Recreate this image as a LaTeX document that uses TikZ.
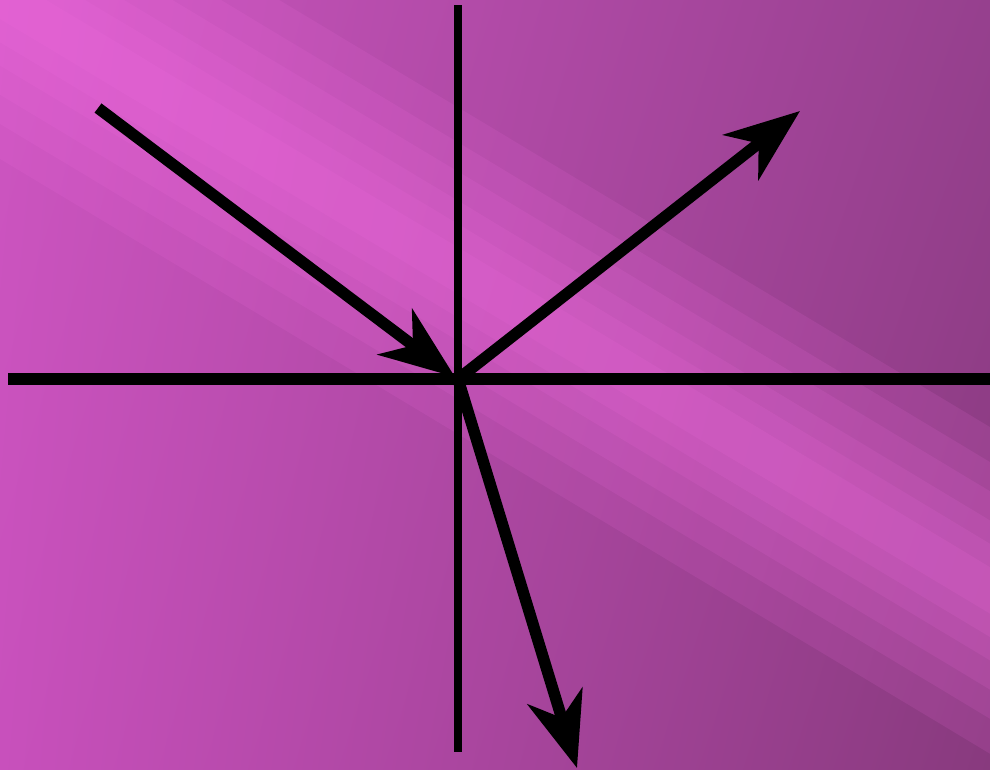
\documentclass[tikz,border=0pt]{standalone}
\usepackage{tikz}
\usetikzlibrary{arrows.meta,shadings}

\definecolor{bgUL}{HTML}{CC55C0}
\definecolor{bgUR}{HTML}{96408E}
\definecolor{bgLL}{HTML}{C850BC}
\definecolor{bgLR}{HTML}{883A7E}
\definecolor{streak}{HTML}{F870E6}

\begin{document}
\begin{tikzpicture}[
  x=0.02cm, y=-0.02cm,
  axisv/.style={line width=0.17cm},
  axish/.style={line width=0.23cm},
  ray/.style={line width=0.23cm,
    -{Stealth[length=1.5cm,width=1.14cm,inset=0.45cm]}},
  band/.style={fill=streak, opacity=0.12},
]
  \useasboundingbox (0,0) rectangle (990,769);

  % background
  \shade[upper left=bgUL, upper right=bgUR, lower left=bgLL, lower right=bgLR]
    (0,0) rectangle (990,769);
  \begin{scope}
    \clip (0,0) rectangle (990,769);
    \begin{scope}[shift={(540,320)}, rotate=-31]
      \foreach \w in {20,40,60,85,110,140}
        \fill[band] (-900,-\w) rectangle (900,\w);
    \end{scope}
  \end{scope}

  \coordinate (O)   at (458,379);
  \coordinate (top) at (458,5);
  \coordinate (bot) at (458,752);
  \coordinate (lft) at (8,379);
  \coordinate (rgt) at (990,379);
  \coordinate (inc) at (98,108);
  \coordinate (hit) at (455,377);
  \coordinate (refl) at (800,111);
  \coordinate (refr) at (577,768);

  % axes
  \draw[axisv] (top) -- (bot);
  \draw[axish] (lft) -- (rgt);

  % rays
  \draw[ray] (inc) -- (hit);
  \draw[ray] (O) -- (refl);
  \draw[ray] (O) -- (refr);
\end{tikzpicture}
\end{document}
